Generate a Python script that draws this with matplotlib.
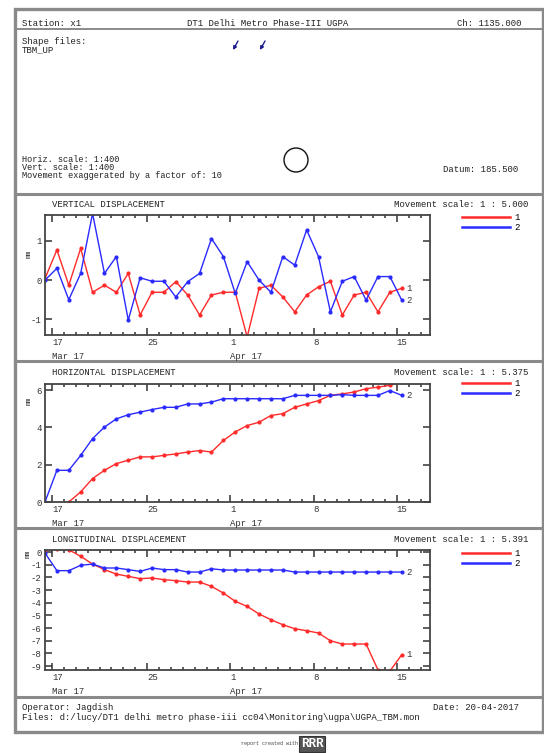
import matplotlib
matplotlib.use("Agg")
import matplotlib.pyplot as plt
import matplotlib.dates as mdates
from matplotlib.lines import Line2D
from matplotlib.patches import Circle, Rectangle
import pandas as pd

# page size in pixels
W, H = 544, 753
MONO = "Liberation Mono"
FS = 6.5
RED = "#ff2a2a"
BLUE = "#2a2aff"

# daily readings
dates = pd.date_range("2017-03-16 10:00", periods=31, freq="D")

tick_dates = ["2017-03-17", "2017-03-25", "2017-04-01", "2017-04-08", "2017-04-15"]
tick_days = ["17", "25", "1", "8", "15"]
month_labels = [("2017-03-17", "Mar 17"), ("2017-04-01", "Apr 17")]

# vertical displacement (mm)
vert_1 = [0.04, 0.77, -0.13, 0.81, -0.31, -0.13, -0.31, 0.17, -0.89, -0.31, -0.31,
          -0.04, -0.38, -0.89, -0.38, -0.31, -0.31, -1.45, -0.21, -0.13, -0.43,
          -0.81, -0.38, -0.17, -0.03, -0.89, -0.38, -0.31, -0.81, -0.31, -0.21]
vert_2 = [0.0, 0.3, -0.5, 0.17, 1.7, 0.17, 0.6, -1.02, 0.06, -0.03, -0.03,
          -0.43, -0.04, 0.17, 1.06, 0.6, -0.34, 0.47, 0.0, -0.31, 0.6,
          0.38, 1.28, 0.6, -0.81, -0.03, 0.09, -0.51, 0.09, 0.09, -0.51]

# horizontal displacement (mm)
horiz_1 = [-0.6, -0.2, 0.0, 0.54, 1.26, 1.7, 2.06, 2.24, 2.42, 2.42, 2.5,
           2.58, 2.68, 2.76, 2.68, 3.3, 3.76, 4.1, 4.28, 4.64, 4.74,
           5.08, 5.26, 5.44, 5.72, 5.8, 5.9, 6.08, 6.16, 6.26, 6.42]
horiz_2 = [0.0, 1.7, 1.7, 2.5, 3.4, 4.02, 4.46, 4.68, 4.82, 4.96, 5.08,
           5.08, 5.26, 5.26, 5.36, 5.54, 5.54, 5.54, 5.54, 5.54, 5.54,
           5.72, 5.72, 5.72, 5.72, 5.76, 5.72, 5.72, 5.72, 5.98, 5.72]

# longitudinal displacement (mm)
long_1 = [0.18, 0.26, 0.18, -0.34, -0.95, -1.39, -1.74, -1.92, -2.1, -2.05, -2.18,
          -2.26, -2.37, -2.37, -2.71, -3.24, -3.89, -4.29, -4.89, -5.34, -5.74,
          -6.05, -6.21, -6.39, -7.0, -7.26, -7.26, -7.26, -9.3, -9.4, -8.1]
long_2 = [-0.08, -1.47, -1.47, -1.05, -0.95, -1.26, -1.26, -1.39, -1.53, -1.26, -1.39,
          -1.39, -1.58, -1.58, -1.32, -1.42, -1.42, -1.42, -1.42, -1.42, -1.42,
          -1.58, -1.58, -1.58, -1.58, -1.58, -1.58, -1.58, -1.58, -1.58, -1.58]

plt.rcParams["font.family"] = [MONO, "DejaVu Sans Mono"]
plt.rcParams["font.size"] = FS

fig = plt.figure(figsize=(W / 100, H / 100), dpi=100)
fig.patch.set_facecolor("white")

# overlay in pixel coordinates for frame and page texts
ov = fig.add_axes([0, 0, 1, 1], zorder=0)
ov.set_xlim(0, W)
ov.set_ylim(H, 0)
ov.axis("off")

FRAME = "#8a8a8a"
ov.add_patch(Rectangle((15, 9), 528, 723, fill=False, ec=FRAME, lw=2.4))
for yy in [29, 194, 361, 528, 697]:
    ov.plot([15, 543], [yy, yy], color=FRAME, lw=2.2 if yy != 29 else 1.4)


def txt(x, y, s, size=FS, **kw):
    ov.text(x, y, s, va="center", ha="left", fontsize=size, color="#222222", **kw)


txt(22, 23, "Station: x1")
txt(187, 23, "DT1 Delhi Metro Phase-III UGPA")
txt(457, 23, "Ch: 1135.000")
txt(22, 41, "Shape files:")
txt(22, 50, "TBM_UP")
txt(22, 159, "Horiz. scale: 1:400", size=6.2)
txt(22, 167, "Vert. scale: 1:400", size=6.2)
txt(22, 175, "Movement exaggerated by a factor of: 10", size=6.2)
txt(443, 169, "Datum: 185.500")

ov.add_patch(Circle((296, 160), 12, fill=False, ec="#111111", lw=1))
for ax0 in [237, 264]:
    ov.annotate("", xy=(ax0 - 4, 50), xytext=(ax0 + 1, 41),
                arrowprops=dict(arrowstyle="-|>", color="#1a1a8c", lw=1,
                                mutation_scale=5, shrinkA=0, shrinkB=0))

txt(22, 707, "Operator: Jagdish")
txt(433, 707, "Date: 20-04-2017")
txt(22, 717, r"Files: d:/lucy/DT1 delhi metro phase-iii cc04\Monitoring\ugpa\UGPA_TBM.mon")
ov.text(298, 744, "report created with", ha="right", va="center", fontsize=3.6, color="#444444")
ov.text(301, 744, "RRR", ha="left", va="center", fontsize=9, fontweight="bold", color="white",
        bbox=dict(boxstyle="square,pad=0.15", fc="#555555", ec="#333333", lw=0.8))

x_lo = mdates.date2num(pd.Timestamp("2017-03-16 10:00"))
x_hi = mdates.date2num(pd.Timestamp("2017-04-17 19:00"))

panels = [
    dict(box=(45, 215, 430, 335), s1=vert_1, s2=vert_2, ylim=(-1.4, 1.66), yticks=[-1, 0, 1],
         title="VERTICAL DISPLACEMENT", scale="Movement scale: 1 : 5.000", ty=204,
         leg=213, mm=(-0.04, 0.68)),
    dict(box=(45, 384, 430, 502), s1=horiz_1, s2=horiz_2, ylim=(0, 6.33), yticks=[0, 2, 4, 6],
         title="HORIZONTAL DISPLACEMENT", scale="Movement scale: 1 : 5.375", ty=372,
         leg=379, mm=(-0.04, 0.86)),
    dict(box=(45, 550, 430, 670), s1=long_1, s2=long_2, ylim=(-9.31, 0.16),
         yticks=[0, -1, -2, -3, -4, -5, -6, -7, -8, -9],
         title="LONGITUDINAL DISPLACEMENT", scale="Movement scale: 1 : 5.391", ty=539,
         leg=549, mm=(-0.045, 0.97)),
]

for p in panels:
    x0, y0, x1, y1 = p["box"]
    ax = fig.add_axes([x0 / W, 1 - y1 / H, (x1 - x0) / W, (y1 - y0) / H], zorder=2)
    ax.plot(dates, p["s1"], color=RED, lw=1, marker="o", ms=2)
    ax.plot(dates, p["s2"], color=BLUE, lw=1, marker="o", ms=2)
    ax.annotate("1", xy=(dates[-1], p["s1"][-1]), xytext=(3.5, 0), textcoords="offset points",
                va="center", fontsize=FS, color="#333333")
    ax.annotate("2", xy=(dates[-1], p["s2"][-1]), xytext=(3.5, 0), textcoords="offset points",
                va="center", fontsize=FS, color="#333333")
    ax.set_xlim(x_lo, x_hi)
    ax.set_ylim(p["ylim"])
    ax.set_yticks(p["yticks"], labels=[f"{t:g}" for t in p["yticks"]])
    ax.set_xticks([mdates.date2num(pd.Timestamp(d)) for d in tick_dates],
                  labels=tick_days, ha="left")
    ax.xaxis.set_minor_locator(mdates.DayLocator())
    ax.tick_params(which="both", direction="in", top=True, right=True,
                   labelsize=FS, colors="#333333", pad=2.5)
    ax.tick_params(which="major", length=5, width=1.1)
    ax.tick_params(which="minor", length=2.5, width=1.1)
    for s in ax.spines.values():
        s.set_color("#444444")
        s.set_linewidth(1.3)
    for d, lab in month_labels:
        ax.annotate(lab, xy=(mdates.date2num(pd.Timestamp(d)), 0),
                    xycoords=("data", "axes fraction"), xytext=(0, -12),
                    textcoords="offset points", ha="left", va="top", fontsize=FS,
                    color="#333333")
    ax.text(p["mm"][0], p["mm"][1], "mm", transform=ax.transAxes, rotation=90,
            ha="center", va="center", fontsize=FS - 1.5, color="#333333")

    handles = [Line2D([], [], color=RED, lw=1.8), Line2D([], [], color=BLUE, lw=1.8)]
    ax.legend(handles, ["1", "2"], loc="upper left", bbox_to_anchor=(462, p["leg"]),
              bbox_transform=ov.transData, frameon=False, borderpad=0, borderaxespad=0,
              handlelength=5.3, handletextpad=0.5, labelspacing=0.1, fontsize=FS)

    txt(52, p["ty"], p["title"])
    txt(394, p["ty"], p["scale"])

fig.savefig("out.png", dpi=100, facecolor="white")
